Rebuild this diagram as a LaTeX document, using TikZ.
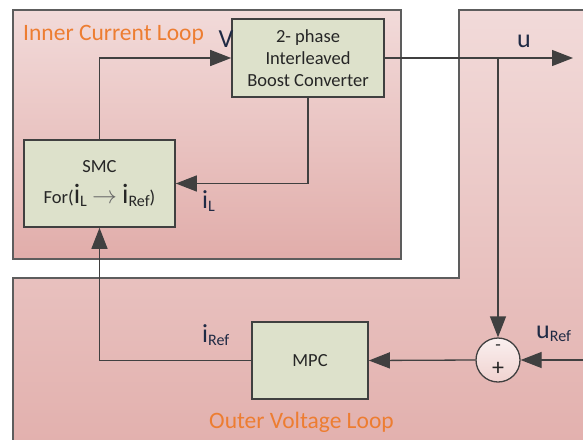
\documentclass[tikz,border=0pt]{standalone}
\usepackage{fontspec}
\setmainfont{Carlito}
\usepackage{xcolor}
\definecolor{lpblock}{HTML}{DDE1CB}
\definecolor{lpline}{HTML}{404040}
\definecolor{lporange}{HTML}{ED7D31}
\definecolor{lptext}{HTML}{262626}
\definecolor{lpsig}{HTML}{1F2A44}
\definecolor{pinktop}{HTML}{FAF1F1}
\definecolor{pinkdark}{HTML}{E1ADAA}
\definecolor{pinklow}{HTML}{EDCBC9}
\definecolor{sumlow}{HTML}{EBC3C0}
\usetikzlibrary{arrows.meta,positioning}
\pgfdeclareverticalshading{loopshade}{100bp}{color(0bp)=(pinklow); color(25bp)=(pinkdark); color(100bp)=(pinktop)}
\pgfdeclareverticalshading{sumshade}{100bp}{color(0bp)=(sumlow); color(100bp)=(white)}
\newcommand{\sigsub}[2]{#1\raisebox{-0.3ex}{\fontsize{16}{18}\selectfont #2}}
\newcommand{\bigi}{{\fontsize{28}{28}\selectfont i}}

\begin{document}
\begin{tikzpicture}[
  x=1pt,y=-1pt,
  every node/.style={text=lptext},
  block/.style={draw=lpline,fill=lpblock,line width=1.6pt,align=center,
                inner sep=0pt,font=\fontsize{18.5}{22}\selectfont},
  loopbox/.style={draw=lpline!85,line width=1.4pt,shading=loopshade},
  wire/.style={draw=lpline,line width=1.3pt},
  arr/.style={wire,-{Triangle[length=21pt,width=16pt]}},
  sig/.style={text=lpsig,font=\fontsize{26}{28}\selectfont,inner sep=0pt},
  looplabel/.style={text=lporange,font=\fontsize{23.5}{27}\selectfont,inner sep=0pt},
]
  \useasboundingbox (0,0) rectangle (583,439);
  \clip (0,0) rectangle (583,439);

  % Loop regions
  \path[loopbox] (13,10) rectangle (401,259);
  \path[loopbox] (13,480) -- (13,278) -- (459,278) -- (459,10) -- (600,10) -- (600,480) -- cycle;

  \node[looplabel,anchor=base west] (innerlab) at (23,40) {Inner Current Loop};
  \node[looplabel,anchor=base west] (outerlab) at (209,428) {Outer Voltage Loop};

  % Blocks
  \node[block,minimum width=152pt,minimum height=78pt] (boost) at (308,58)
    {2- phase\\Interleaved\\Boost Converter};
  \node[block,minimum width=151pt,minimum height=87pt] (smc) at (99.5,183.5)
    {SMC\\[9pt]For(\sigsub{\bigi}{L}\;{\fontsize{24}{24}\selectfont\color{lpline!80}$\rightarrow$}\;\sigsub{\bigi}{Ref})};
  \node[block,minimum width=116pt,minimum height=77pt] (mpc) at (310,360.5) {MPC};

  % Summing junction
  \node[circle,draw=lpline,line width=1.3pt,shading=sumshade,minimum size=44pt,
        inner sep=0pt] (sum) at (498,360) {};
  \node[font=\fontsize{18}{20}\selectfont,inner sep=0pt] (summinus) at (498,348) {-};
  \node[font=\fontsize{24}{24}\selectfont,inner sep=0pt] (sumplus) at (498,369) {+};

  \coordinate (uout) at (573,58);
  \coordinate (ujoin) at (498,58);
  \coordinate (uref) at (600,360);

  % Connections
  \draw[arr] (smc.north) |- (boost.west);
  \draw[arr] (boost.south) |- (smc.east);
  \draw[arr] (boost.east) -- (uout);
  \draw[arr] (ujoin) -- (sum.north);
  \draw[arr] (uref) -- (sum.east);
  \draw[arr] (sum.west) -- (mpc.east);
  \draw[arr] (mpc.west) -| (smc.south);

  % Signal labels
  \node[sig,anchor=base] (vlab) at (226,47) {V};
  \node[sig,anchor=base] (ulab) at (524,47) {u};
  \node[sig,anchor=base west] (illab) at (202,208) {\sigsub{i}{L}};
  \node[sig,anchor=base west] (ireflab) at (202,342) {\sigsub{i}{Ref}};
  \node[sig,anchor=base west] (ureflab) at (536,338) {\sigsub{u}{Ref}};
\end{tikzpicture}
\end{document}
